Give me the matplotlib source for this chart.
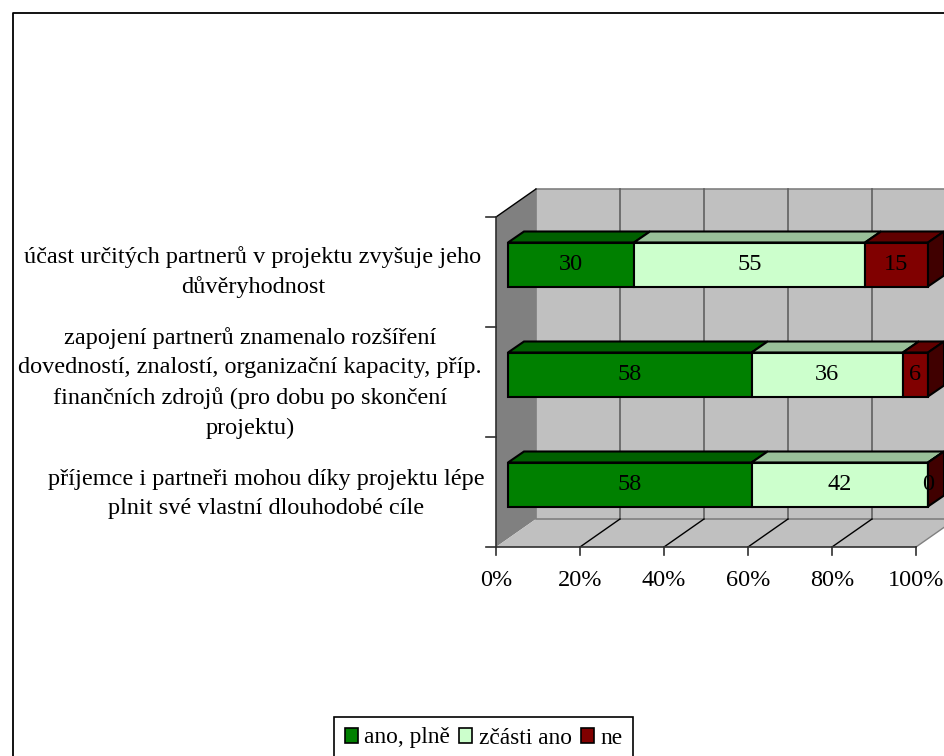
import matplotlib
matplotlib.use('Agg')
import matplotlib.pyplot as plt
from matplotlib.patches import Polygon, Rectangle

plt.rcParams['font.family'] = ['Liberation Serif', 'DejaVu Serif']

# Data
categories = [
    'příjemce i partneři mohou díky projektu lépe\nplnit své vlastní dlouhodobé cíle',
    'zapojení partnerů znamenalo rozšíření\ndovedností, znalostí, organizační kapacity, příp.\nfinančních zdrojů (pro dobu po skončení\nprojektu)',
    'účast určitých partnerů v projektu zvyšuje jeho\ndůvěryhodnost',
]
series_names = ['ano, plně', 'zčásti ano', 'ne']
ano_plne = [58, 58, 30]
zcasti_ano = [42, 36, 55]
ne = [0, 6, 15]
x_ticks = [0, 20, 40, 60, 80, 100]

front_colors = ['#008000', '#CCFFCC', '#800000']
top_colors = ['#006000', '#99C099', '#600000']
side_colors = ['#004000', '#668066', '#400000']

W, H = 944, 756
PX_X = 4.2    # pixels per percent
PX_Y = 110.0  # pixels per category
X0, Y0 = 496, 547  # pixel position of the 0% / bottom corner
FS = 17.5
label_x = [266, 250, 253]   # label centres in pixels
label_dy = [2, 1, 0]

# 3d offsets in pixels, converted to data units
def off(dx, dy):
    return dx / PX_X, dy / PX_Y

fig = plt.figure(figsize=(W / 100, H / 100), dpi=100)
ax = fig.add_axes([0, 0, 1, 1])
ax.set_xlim(-X0 / PX_X, (W - X0) / PX_X)
ax.set_ylim(-(H - Y0) / PX_Y, Y0 / PX_Y)
ax.axis('off')

# outer chart border
ax.plot([13 / W, 13 / W, 1], [0, 1 - 13 / H, 1 - 13 / H], transform=ax.transAxes,
        color='black', lw=1.3, zorder=1)

ymax = len(categories)
wx, wy = off(40, 28)

# side wall, floor, back wall
ax.add_patch(Polygon([(0, 0), (wx, wy), (wx, ymax + wy), (0, ymax)], fc='#808080', ec='none', zorder=1))
ax.add_patch(Polygon([(0, 0), (100, 0), (100 + wx, wy), (wx, wy)], fc='#C0C0C0', ec='none', zorder=1))
ax.add_patch(Rectangle((wx, wy), 100, ymax, fc='#C0C0C0', ec='#808080', lw=1.2, zorder=1))

# gridlines on back wall and floor
for t in x_ticks[1:]:
    ax.plot([t + wx, t + wx], [wy, ymax + wy], color='#606060', lw=1.2, zorder=2)
    ax.plot([t, t + wx], [0, wy], color='black' if t < 100 else '#808080', lw=1, zorder=2)

# axes lines and ticks
ax.plot([0, 0], [0, ymax], color='#303030', lw=1.2, zorder=3)
ax.plot([0, wx], [ymax, ymax + wy], color='black', lw=1, zorder=3)
ax.plot([0, 100], [0, 0], color='#303030', lw=1.2, zorder=3)
tx, _ = off(10, 0)
_, ty = off(0, 8)
for i in range(ymax + 1):
    ax.plot([-tx, 0], [i, i], color='#303030', lw=1.2, zorder=3)
for t in x_ticks:
    ax.plot([t, t], [0, -ty], color='#303030', lw=1.2, zorder=3)
    ax.text(t, -33 / PX_Y, f'{t}%', ha='center', va='center', fontsize=FS, zorder=5)

# stacked 3d bars
bx, by = off(12, 8)      # bar front plane offset
dx, dy = off(16, 11)     # bar depth
bar_h = 44 / PX_Y
for i, cat in enumerate(categories):
    yc = i + 0.5 + 7.5 / PX_Y
    y1, y2 = yc - bar_h / 2, yc + bar_h / 2
    left = bx
    vals = [ano_plne[i], zcasti_ano[i], ne[i]]
    for j, v in enumerate(vals):
        right = left + v
        ax.add_patch(Polygon([(left, y2), (right, y2), (right + dx, y2 + dy), (left + dx, y2 + dy)],
                             fc=top_colors[j], ec='black', lw=1.5, zorder=4))
        ax.add_patch(Rectangle((left, y1), v, bar_h, fc=front_colors[j], ec='black', lw=1.5, zorder=4))
        left = right
    ax.add_patch(Polygon([(left, y1), (left + dx, y1 + dy), (left + dx, y2 + dy), (left, y2)],
                         fc=side_colors[2], ec='black', lw=1.5, zorder=4))
    left = bx
    for v in vals:
        ax.text(left + v / 2, yc, str(v), ha='center', va='center', fontsize=FS, zorder=6)
        left += v
    ax.text((label_x[i] - X0) / PX_X, i + 0.5 - label_dy[i] / PX_Y, cat, ha='center', va='center',
            fontsize=FS, linespacing=1.52, zorder=5)

# legend
handles = [Rectangle((0, 0), 1, 1, fc=c, ec='black', lw=1.2) for c in front_colors]
leg = ax.legend(handles, series_names, loc='lower left', bbox_to_anchor=(334 / W, -3 / H),
                ncol=3, fontsize=16.8, frameon=True, fancybox=False, edgecolor='black',
                framealpha=1, handlelength=0.56, handleheight=0.6, handletextpad=0.28,
                columnspacing=0.4, borderpad=0.45, borderaxespad=0)
leg.get_frame().set_linewidth(1.2)

fig.savefig('out.png', dpi=100)
